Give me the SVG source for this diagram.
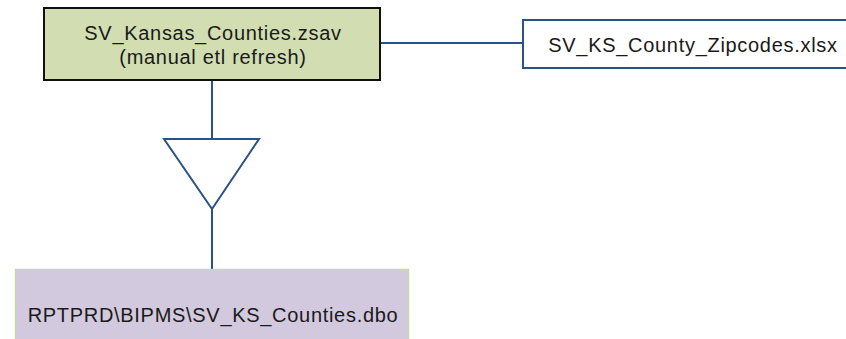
<svg xmlns="http://www.w3.org/2000/svg" width="846" height="339" viewBox="0 0 846 339">
<style>
text{font-family:"Liberation Sans",Arial,sans-serif;font-size:20px;letter-spacing:0.7px;fill:#1a1a1a;text-anchor:middle}
.conn{stroke:#2B5287;stroke-width:2;fill:none}
</style>
<rect width="846" height="339" fill="#fff"/>
<g id="connectors">
<line class="conn" x1="380" y1="43" x2="523" y2="43"/>
<line class="conn" x1="212" y1="80" x2="212" y2="139"/>
<polygon class="conn" points="164,139 259,139 212,209"/>
<line class="conn" x1="212" y1="209" x2="212" y2="269"/>
</g>
<g id="n1">
<rect x="44" y="8" width="336" height="72" fill="#D2DEB2" stroke="#111" stroke-width="2"/>
<text x="213" y="40">SV_Kansas_Counties.zsav</text>
<text x="213" y="64">(manual etl refresh)</text>
</g>
<g id="n2">
<rect x="523" y="20" width="330" height="48" fill="#fff" stroke="#2B5287" stroke-width="2"/>
<text x="693" y="52">SV_KS_County_Zipcodes.xlsx</text>
</g>
<g id="n3">
<rect x="15.5" y="269.5" width="393" height="80" fill="#D2C9DE" stroke="#C8DAA8" stroke-width="1.5"/>
<text x="213" y="322">RPTPRD\BIPMS\SV_KS_Counties.dbo</text>
</g>
</svg>
